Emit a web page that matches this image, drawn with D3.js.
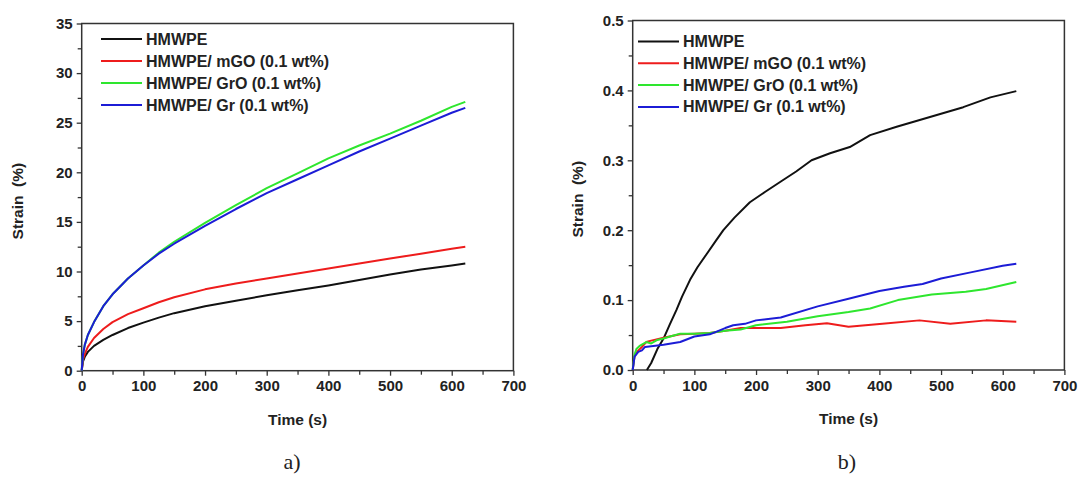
<!DOCTYPE html>
<html>
<head>
<meta charset="utf-8">
<script src="https://cdn.jsdelivr.net/npm/d3@7/dist/d3.min.js"></script>
<style>
  body { margin: 0; background: #fff; }
  svg text { font-family: "Liberation Sans", Arial, sans-serif; font-weight: bold; fill: #222; }
  svg text.cap { font-family: "Liberation Serif", "Times New Roman", serif; font-weight: normal; }
</style>
</head>
<body>
<svg id="chart" width="1081" height="477"></svg>
<script>
// series names + colours (shared by both panels)
const seriesNames = ["HMWPE", "HMWPE/ mGO (0.1 wt%)", "HMWPE/ GrO (0.1 wt%)", "HMWPE/ Gr (0.1 wt%)"];
const seriesColors = ["#111111", "#ee1c1c", "#2ee62e", "#1c1cd6"];

// panel a) - total strain
const tA = [0, 2, 5, 10, 20, 35, 50, 75, 100, 125, 150, 200, 250, 300, 350, 400, 450, 500, 550, 600, 622];
const aBlack = [0, 0.9, 1.4, 1.9, 2.5, 3.1, 3.6, 4.3, 4.85, 5.35, 5.8, 6.5, 7.05, 7.6, 8.1, 8.6, 9.15, 9.7, 10.2, 10.6, 10.8];
const aRed   = [0, 1.1, 1.7, 2.4, 3.3, 4.2, 4.9, 5.7, 6.3, 6.9, 7.4, 8.2, 8.8, 9.3, 9.8, 10.3, 10.8, 11.3, 11.8, 12.3, 12.5];
const aGreen = [0, 1.6, 2.6, 3.6, 4.9, 6.5, 7.7, 9.3, 10.6, 11.9, 13.0, 14.9, 16.7, 18.4, 19.9, 21.4, 22.7, 23.9, 25.2, 26.6, 27.1];
const aBlue  = [0, 1.6, 2.6, 3.6, 4.9, 6.5, 7.7, 9.3, 10.6, 11.8, 12.8, 14.6, 16.3, 17.9, 19.3, 20.7, 22.1, 23.4, 24.7, 26.0, 26.5];

// panel b) - each series has its own time points
const bBlackT = [23, 30, 40, 50, 60, 71, 80, 93, 105, 120, 135, 147, 165, 190, 215, 239, 265, 290, 320, 352, 385, 428, 482, 536, 580, 622];
const bBlack  = [0, 0.01, 0.03, 0.045, 0.065, 0.086, 0.105, 0.129, 0.147, 0.166, 0.185, 0.2, 0.218, 0.24, 0.255, 0.269, 0.284, 0.30, 0.31, 0.319, 0.336, 0.348, 0.362, 0.376, 0.39, 0.399];
const bRedT = [0, 3, 8, 15, 22, 30, 50, 77, 100, 125, 150, 175, 200, 240, 280, 315, 350, 405, 465, 515, 573, 622];
const bRed  = [0, 0.02, 0.027, 0.033, 0.04, 0.042, 0.046, 0.051, 0.052, 0.053, 0.056, 0.06, 0.06, 0.06, 0.064, 0.067, 0.062, 0.066, 0.071, 0.066, 0.071, 0.069];
const bGreenT = [0, 3, 6, 12, 22, 30, 40, 50, 65, 77, 100, 125, 150, 175, 200, 250, 300, 350, 385, 430, 485, 540, 573, 622];
const bGreen  = [0, 0.022, 0.03, 0.035, 0.04, 0.038, 0.043, 0.045, 0.049, 0.052, 0.052, 0.053, 0.056, 0.058, 0.064, 0.069, 0.077, 0.083, 0.088, 0.1, 0.108, 0.112, 0.116, 0.126];
const bBlueT = [0, 3, 9, 15, 20, 30, 50, 77, 100, 125, 150, 163, 182, 200, 240, 300, 350, 400, 440, 470, 500, 550, 600, 622];
const bBlue  = [0, 0.019, 0.026, 0.028, 0.033, 0.034, 0.036, 0.04, 0.048, 0.051, 0.06, 0.064, 0.066, 0.071, 0.075, 0.091, 0.102, 0.113, 0.119, 0.123, 0.131, 0.14, 0.149, 0.152];

const xTicks = [0, 100, 200, 300, 400, 500, 600, 700];
const yTicksA = [0, 5, 10, 15, 20, 25, 30, 35];
const yTicksB = [0, 0.1, 0.2, 0.3, 0.4, 0.5];

const svg = d3.select("#chart");

function panel(opt) {
  const g = svg.append("g");
  const x = d3.scaleLinear().domain([0, 700]).range([opt.left, opt.right]);
  const y = d3.scaleLinear().domain([0, opt.ymax]).range([opt.bottom, opt.top]);

  // frame
  g.append("rect").attr("x", opt.left).attr("y", opt.top)
    .attr("width", opt.right - opt.left).attr("height", opt.bottom - opt.top)
    .attr("fill", "none").attr("stroke", "#333").attr("stroke-width", 1.5);

  // minor ticks
  const xMinor = d3.range(50, 700, 100);
  g.append("g").attr("transform", `translate(0,${opt.bottom})`)
    .call(d3.axisBottom(x).tickValues(xMinor).tickSize(4).tickFormat(""))
    .call(s => s.select(".domain").remove());
  g.append("g").attr("transform", `translate(${opt.left},0)`)
    .call(d3.axisLeft(y).tickValues(opt.yMinor).tickSize(4).tickFormat(""))
    .call(s => s.select(".domain").remove());

  // major ticks + labels
  const ax = g.append("g").attr("transform", `translate(0,${opt.bottom})`)
    .call(d3.axisBottom(x).tickValues(xTicks).tickSize(5).tickPadding(5).tickFormat(d3.format("d")));
  ax.select(".domain").remove();
  ax.selectAll("text").attr("font-size", 15).attr("fill", "#222");
  const ay = g.append("g").attr("transform", `translate(${opt.left},0)`)
    .call(d3.axisLeft(y).tickValues(opt.yTicks).tickSize(5).tickPadding(4).tickFormat(opt.yfmt));
  ay.select(".domain").remove();
  ay.selectAll("text").attr("font-size", 15).attr("fill", "#222");
  g.selectAll(".tick line").attr("stroke", "#333").attr("stroke-width", 1.3);

  // axis titles
  g.append("text").attr("x", (opt.left + opt.right) / 2).attr("y", opt.bottom + 54)
    .attr("text-anchor", "middle").attr("font-size", 15.5).text("Time (s)");
  g.append("text").attr("transform", `translate(${opt.ylabX},${(opt.top + opt.bottom) / 2 + 4}) rotate(-90)`)
    .attr("text-anchor", "middle").attr("font-size", 15.5).attr("xml:space", "preserve").text("Strain  (%)");

  // curves
  const line = d3.line().x(d => x(d[0])).y(d => y(d[1]));
  opt.series.forEach((s, i) => {
    g.append("path").datum(d3.zip(s.t, s.v))
      .attr("fill", "none").attr("stroke", seriesColors[i])
      .attr("stroke-width", 2).attr("stroke-linejoin", "round")
      .attr("d", line);
  });

  // legend
  seriesNames.forEach((name, i) => {
    const ly = opt.legY + i * opt.legGap;
    g.append("line").attr("x1", opt.legX).attr("x2", opt.legX + 41)
      .attr("y1", ly).attr("y2", ly).attr("stroke", seriesColors[i]).attr("stroke-width", 2);
    g.append("text").attr("x", opt.legX + 45).attr("y", ly + 5.5)
      .attr("font-size", 16).text(name);
  });

  // caption
  svg.append("text").attr("class", "cap").attr("x", opt.capX).attr("y", 469)
    .attr("text-anchor", "middle").attr("font-size", 22).text(opt.cap);
}

panel({
  left: 81.7, right: 513.4, top: 23.5, bottom: 370.7, ymax: 35,
  yTicks: yTicksA, yMinor: d3.range(2.5, 35, 5), yfmt: d3.format("d"),
  ylabX: 23, legX: 101, legY: 39, legGap: 22, cap: "a)", capX: 292,
  series: [
    { t: tA, v: aBlack }, { t: tA, v: aRed }, { t: tA, v: aGreen }, { t: tA, v: aBlue }
  ]
});

panel({
  left: 632.7, right: 1064.4, top: 20.5, bottom: 370, ymax: 0.5,
  yTicks: yTicksB, yMinor: d3.range(0.05, 0.5, 0.1), yfmt: d3.format(".1f"),
  ylabX: 583, legX: 638, legY: 41.5, legGap: 21.8, cap: "b)", capX: 847,
  series: [
    { t: bBlackT, v: bBlack }, { t: bRedT, v: bRed }, { t: bGreenT, v: bGreen }, { t: bBlueT, v: bBlue }
  ]
});
</script>
</body>
</html>
